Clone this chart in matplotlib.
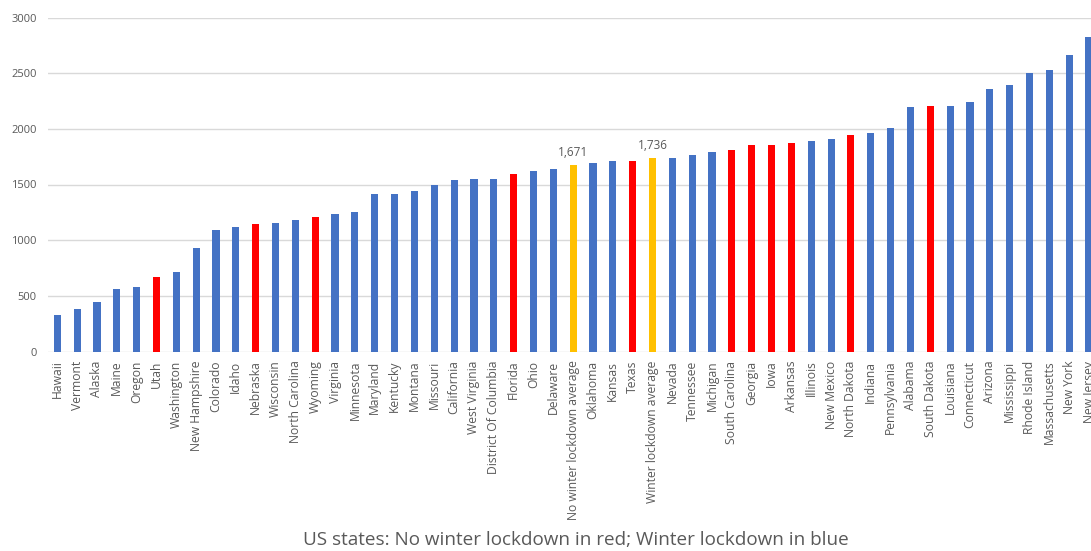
import matplotlib
matplotlib.use("Agg")
import matplotlib.pyplot as plt

states = ["Hawaii", "Vermont", "Alaska", "Maine", "Oregon", "Utah", "Washington",
          "New Hampshire", "Colorado", "Idaho", "Nebraska", "Wisconsin", "North Carolina",
          "Wyoming", "Virginia", "Minnesota", "Maryland", "Kentucky", "Montana", "Missouri",
          "California", "West Virginia", "District Of Columbia", "Florida", "Ohio", "Delaware",
          "No winter lockdown average", "Oklahoma", "Kansas", "Texas", "Winter lockdown average",
          "Nevada", "Tennessee", "Michigan", "South Carolina", "Georgia", "Iowa", "Arkansas",
          "Illinois", "New Mexico", "North Dakota", "Indiana", "Pennsylvania", "Alabama",
          "South Dakota", "Louisiana", "Connecticut", "Arizona", "Mississippi", "Rhode Island",
          "Massachusetts", "New York", "New Jersey"]

values = [330, 380, 443, 565, 577, 670, 712,
          931, 1095, 1122, 1143, 1155, 1179,
          1206, 1239, 1251, 1412, 1415, 1445, 1496,
          1538, 1547, 1547, 1598, 1618, 1640,
          1671, 1690, 1712, 1712, 1736,
          1735, 1766, 1793, 1807, 1858, 1858, 1876,
          1888, 1909, 1942, 1960, 2011, 2197,
          2208, 2208, 2238, 2355, 2394, 2498,
          2529, 2663, 2825]

# group: "no" = no winter lockdown (red), "yes" = winter lockdown (blue), "avg" = averages
groups = ["yes", "yes", "yes", "yes", "yes", "no", "yes",
          "yes", "yes", "yes", "no", "yes", "yes",
          "no", "yes", "yes", "yes", "yes", "yes", "yes",
          "yes", "yes", "yes", "no", "yes", "yes",
          "avg", "yes", "yes", "no", "avg",
          "yes", "yes", "yes", "no", "no", "no", "no",
          "yes", "yes", "no", "yes", "yes", "yes",
          "no", "yes", "yes", "yes", "yes", "yes",
          "yes", "yes", "yes"]

yticks = [0, 500, 1000, 1500, 2000, 2500, 3000]
caption = "US states: No winter lockdown in red; Winter lockdown in blue"

color_map = {"yes": "#4472C4", "no": "#FF0000", "avg": "#FFC000"}
colors = [color_map[g] for g in groups]

W, H = 1091, 551
fig = plt.figure(figsize=(W / 100, H / 100), dpi=100)
fig.patch.set_facecolor("white")

ax_left_px, ax_right_px = 48, 1101
ax_bottom_px, ax_top_px = H - 351.5, H - 17.5
ax = fig.add_axes([ax_left_px / W, ax_bottom_px / H,
                   (ax_right_px - ax_left_px) / W, (ax_top_px - ax_bottom_px) / H])

x = list(range(len(states)))
ax.bar(x, values, width=0.36, color=colors, zorder=3)

spacing = (1089 - 57.3) / 52
x0 = -(57.3 - ax_left_px) / spacing
x1 = 52 + (ax_right_px - 1089) / spacing
ax.set_xlim(x0, x1)
ax.set_ylim(0, 3000)

ax.set_yticks(yticks)
ax.set_yticklabels([str(t) for t in yticks])
ax.yaxis.grid(True, color="#D9D9D9", linewidth=1.0, zorder=0)
ax.set_axisbelow(True)

ax.set_xticks(x)
ax.set_xticklabels(states, rotation=90, fontsize=8.7, color="#595959",
                   family=["Open Sans", "DejaVu Sans"])
for lbl in ax.get_yticklabels():
    lbl.set_fontsize(8)
    lbl.set_color("#595959")
    lbl.set_family(["Open Sans", "DejaVu Sans"])

ax.tick_params(axis="both", length=0)
ax.tick_params(axis="x", pad=6.5)
ax.tick_params(axis="y", pad=8)
for s in ax.spines.values():
    s.set_visible(False)

for xi, v, g in zip(x, values, groups):
    if g == "avg":
        ax.text(xi, v + 60, f"{v:,}", ha="center", va="bottom", fontsize=8.5,
                color="#595959", family=["Open Sans", "DejaVu Sans"])

fig.text(576 / W, (H - 540) / H, caption, ha="center", va="center", fontsize=13.6,
         color="#595959", family=["Open Sans", "DejaVu Sans"])

fig.savefig("out.png", dpi=100, facecolor="white")
